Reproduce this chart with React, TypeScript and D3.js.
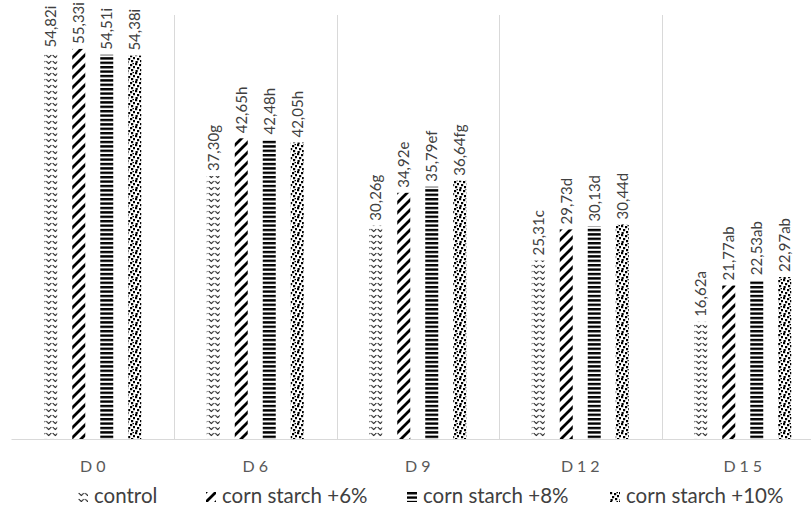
import React from "react";
import * as d3 from "d3";

const categories = ["D0", "D6", "D9", "D12", "D15"];
const seriesNames = ["control", "corn starch +6%", "corn starch +8%", "corn starch +10%"];
const controlValues = [54.82, 37.3, 30.26, 25.31, 16.62];
const cs6Values = [55.33, 42.65, 34.92, 29.73, 21.77];
const cs8Values = [54.51, 42.48, 35.79, 30.13, 22.53];
const cs10Values = [54.38, 42.05, 36.64, 30.44, 22.97];
const controlLabels = ["54,82i", "37,30g", "30,26g", "25,31c", "16,62a"];
const cs6Labels = ["55,33i", "42,65h", "34,92e", "29,73d", "21,77ab"];
const cs8Labels = ["54,51i", "42,48h", "35,79ef", "30,13d", "22,53ab"];
const cs10Labels = ["54,38i", "42,05h", "36,64fg", "30,44d", "22,97ab"];

const seriesValues = [controlValues, cs6Values, cs8Values, cs10Values];
const seriesLabels = [controlLabels, cs6Labels, cs8Labels, cs10Labels];
const patternIds = ["pControl", "pCs6", "pCs8", "pCs10"];

const W = 811;
const H = 508;
const FONT = "Lato, 'Open Sans', sans-serif";

export default function App() {
  const x0 = d3.scaleBand<string>().domain(categories).range([11.5, 824]).padding(0);
  const y = d3.scaleLinear().domain([0, 60]).range([439, 16]);
  const groupHalf = 56;
  const x1 = (cat: string) =>
    d3
      .scaleBand<string>()
      .domain(seriesNames)
      .range([
        (x0(cat) as number) + x0.bandwidth() / 2 - groupHalf,
        (x0(cat) as number) + x0.bandwidth() / 2 + groupHalf,
      ])
      .paddingInner(0.536)
      .paddingOuter(0.268);

  const legendX = [78, 206, 407, 610];

  return (
    <div style={{ position: "fixed", left: 0, top: 0 }}>
      <svg width={W} height={H} style={{ display: "block", background: "#fff" }}>
        <defs>
          <pattern id="pControl" patternUnits="userSpaceOnUse" width="6.5" height="6">
            <polyline points="0.6,1 3.25,3.6 5.9,1" fill="none" stroke="#000" strokeWidth="1" />
          </pattern>
          <pattern id="pCs6" patternUnits="userSpaceOnUse" width="10" height="10">
            <path d="M0,10 L10,0 M-2,2 L2,-2 M8,12 L12,8" stroke="#000" strokeWidth="2.8" />
          </pattern>
          <pattern id="pCs8" patternUnits="userSpaceOnUse" width="4" height="4.4">
            <rect x="0" y="0" width="4" height="2.4" fill="#000" />
          </pattern>
          <pattern id="pCs10" patternUnits="userSpaceOnUse" width="9" height="9">
            <rect x="0" y="0" width="2.2" height="2.2" fill="#000" />
            <rect x="4" y="1" width="2.2" height="2.2" fill="#000" />
            <rect x="7" y="3" width="2" height="2.2" fill="#000" />
            <rect x="2" y="4" width="2.2" height="2.2" fill="#000" />
            <rect x="5" y="6" width="2.2" height="2.2" fill="#000" />
            <rect x="0.5" y="7" width="2.2" height="2" fill="#000" />
            <rect x="6.5" y="0" width="1.5" height="1.2" fill="#000" />
          </pattern>
        </defs>

        {/* category separators */}
        {categories.slice(1).map((c) => (
          <line
            key={"sep" + c}
            x1={Math.round(x0(c) as number) + 0.5}
            x2={Math.round(x0(c) as number) + 0.5}
            y1={15}
            y2={439}
            stroke="#d9d9d9"
            strokeWidth={1}
          />
        ))}

        {/* bars */}
        {categories.map((c, ci) => {
          const xs = x1(c);
          return seriesNames.map((s, si) => {
            const v = seriesValues[si][ci];
            return (
              <rect
                key={c + s}
                x={xs(s)}
                y={y(v)}
                width={xs.bandwidth()}
                height={y(0) - y(v)}
                fill={`url(#${patternIds[si]})`}
              />
            );
          });
        })}

        {/* data labels */}
        {categories.map((c, ci) => {
          const xs = x1(c);
          return seriesNames.map((s, si) => {
            const v = seriesValues[si][ci];
            const cx = (xs(s) as number) + xs.bandwidth() / 2;
            const ty = y(v) - 5;
            return (
              <text
                key={"l" + c + s}
                transform={`translate(${cx},${ty}) rotate(-90)`}
                dy="0.35em"
                textAnchor="start"
                fontFamily={FONT}
                fontSize={15}
                fill="#404040"
              >
                {seriesLabels[si][ci]}
              </text>
            );
          });
        })}

        {/* x axis line */}
        <line x1={11.5} x2={W} y1={439.5} y2={439.5} stroke="#d9d9d9" strokeWidth={1} />

        {/* category labels */}
        {categories.map((c) => (
          <text
            key={"cat" + c}
            x={(x0(c) as number) + x0.bandwidth() / 2 + 2}
            y={472}
            textAnchor="middle"
            fontFamily={FONT}
            fontSize={16}
            letterSpacing="4px"
            fill="#595959"
          >
            {c}
          </text>
        ))}

        {/* legend */}
        {seriesNames.map((s, si) => (
          <g key={"leg" + s} transform={`translate(${legendX[si]},${492})`}>
            <rect x={0} y={0} width={10} height={10} fill={`url(#${patternIds[si]})`} />
            <text x={16} y={11} fontFamily={FONT} fontSize={20.5} fill="#404040">
              {s}
            </text>
          </g>
        ))}
      </svg>
    </div>
  );
}
